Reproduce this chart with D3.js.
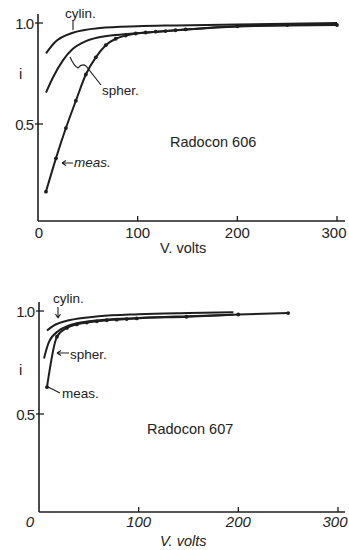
<!DOCTYPE html>
<html>
<head>
<meta charset="utf-8">
<script src="https://cdn.jsdelivr.net/npm/d3@7"></script>
<style>
  body { margin: 0; background: #fff; }
  svg { font-family: "Liberation Sans", Arial, sans-serif; fill: #222; }
  text { fill: #222; }
</style>
</head>
<body>
<svg id="fig" width="349" height="550"></svg>
<script>
// values (V in volts, i relative current)
const voltTicks = [0, 100, 200, 300];
const iTicks = [0.5, 1.0];

const cylin606 = [[8,0.85],[17,0.905],[35,0.952],[62,0.975],[100,0.984],[138,0.988],[200,0.993],[300,1.0]];
const spher606 = [[8,0.655],[15,0.73],[25,0.815],[35,0.872],[45,0.903],[60,0.928],[90,0.945],[130,0.96],[200,0.983],[300,0.99]];
const meas606 = [[8,0.165],[18,0.33],[28,0.48],[38,0.615],[48,0.745],[58,0.83],[68,0.89],[78,0.922],[88,0.938],[98,0.948],[108,0.953],[118,0.957],[128,0.96],[138,0.964],[148,0.968],[200,0.984],[250,0.99],[300,0.99]];

const cylin607 = [[8,0.905],[15,0.93],[30,0.955],[60,0.974],[100,0.984],[150,0.99],[195,0.994]];
const spher607 = [[5,0.77],[10,0.85],[20,0.905],[30,0.93],[50,0.95],[100,0.966],[150,0.975],[195,0.982]];
const meas607 = [[8,0.63],[18,0.875],[28,0.918],[38,0.935],[48,0.944],[58,0.95],[68,0.955],[78,0.958],[88,0.961],[98,0.964],[148,0.972],[200,0.983],[250,0.99]];

const svg = d3.select("#fig");
const ink = "#1e1e1e";

function panel(cfg) {
  const x = d3.scaleLinear().domain([0, 300]).range([cfg.x0, cfg.x300]);
  const y = d3.scaleLinear().domain([0.5, 1.0]).range([cfg.y05, cfg.y10]);
  const g = svg.append("g");

  // axes
  g.append("line").attr("x1", cfg.x0).attr("x2", cfg.x0)
    .attr("y1", cfg.axisTop).attr("y2", cfg.axisY)
    .attr("stroke", ink).attr("stroke-width", 1.6);
  g.append("line").attr("x1", cfg.x0).attr("x2", 345)
    .attr("y1", cfg.axisY).attr("y2", cfg.axisY)
    .attr("stroke", ink).attr("stroke-width", 1.6);

  voltTicks.forEach(v => {
    if (v > 0) {
      g.append("line").attr("x1", x(v)).attr("x2", x(v))
        .attr("y1", cfg.axisY).attr("y2", cfg.axisY - 5)
        .attr("stroke", ink).attr("stroke-width", 1.3);
    }
    g.append("text").text(v)
      .attr("x", v === 0 ? x(v) + cfg.zeroDx : x(v) - (v === 300 ? 3 : 0))
      .attr("y", cfg.tickBase)
      .attr("text-anchor", "middle")
      .attr("font-size", 15)
      .attr("font-style", cfg.italic ? "italic" : "normal");
  });

  iTicks.forEach(t => {
    g.append("line").attr("x1", cfg.x0 - 3).attr("x2", cfg.x0 + 5)
      .attr("y1", y(t)).attr("y2", y(t))
      .attr("stroke", ink).attr("stroke-width", 1.3);
    g.append("text").text(t.toFixed(1))
      .attr("x", cfg.x0 - 5).attr("y", y(t) + 6)
      .attr("text-anchor", "end")
      .attr("font-size", 15)
      .attr("letter-spacing", -1);
  });

  g.append("text").text("i").attr("x", 19).attr("y", cfg.iLabelY).attr("font-size", 15);
  g.append("text").text("V. volts").attr("x", 160).attr("y", cfg.xLabelY)
    .attr("font-size", 14.5).attr("font-style", cfg.italic ? "italic" : "normal");
  g.append("text").text(cfg.title).attr("x", cfg.titleX).attr("y", cfg.titleY).attr("font-size", 14.5);

  // curves
  const line = d3.line().x(d => x(d[0])).y(d => y(d[1])).curve(d3.curveMonotoneX);
  [cfg.cylin, cfg.spher, cfg.meas].forEach(s => {
    g.append("path").attr("d", line(s)).attr("fill", "none")
      .attr("stroke", ink).attr("stroke-width", 2);
  });
  g.selectAll("circle.pt").data(cfg.meas).join("circle")
    .attr("cx", d => x(d[0])).attr("cy", d => y(d[1]))
    .attr("r", 1.9).attr("fill", ink);

  // labels and leaders
  cfg.notes.forEach(n => {
    g.append("text").text(n.t).attr("x", n.x).attr("y", n.y)
      .attr("font-size", 13.5).attr("font-style", n.it ? "italic" : "normal");
  });
  cfg.leaders.forEach(p => {
    g.append("path").attr("d", p).attr("fill", "none")
      .attr("stroke", ink).attr("stroke-width", 1.1);
  });
}

panel({
  x0: 38, x300: 337, y10: 23, y05: 124, axisY: 221, axisTop: 14,
  tickBase: 238, zeroDx: 1, italic: false, iLabelY: 79, xLabelY: 253,
  title: "Radocon 606", titleX: 170, titleY: 147,
  cylin: cylin606, spher: spher606, meas: meas606,
  notes: [
    {t: "cylin.", x: 65, y: 18},
    {t: "spher.", x: 102, y: 95},
    {t: "meas.", x: 74, y: 167, it: true}
  ],
  leaders: [
    "M73,21 L73,30",
    "M70,57 Q74,66 78,68 Q82,63 86,66 L101,85",
    "M62,163 L73,163 M62,163 l4,-2.5 M62,163 l4,2.5"
  ]
});

panel({
  x0: 39, x300: 338, y10: 311, y05: 414, axisY: 512, axisTop: 302,
  tickBase: 527, zeroDx: -9, italic: true, iLabelY: 375, xLabelY: 546,
  title: "Radocon 607", titleX: 147, titleY: 434,
  cylin: cylin607, spher: spher607, meas: meas607,
  notes: [
    {t: "cylin.", x: 53, y: 303},
    {t: "spher.", x: 70, y: 359},
    {t: "meas.", x: 62, y: 398}
  ],
  leaders: [
    "M58,307 L58,318 M58,318 l-2.5,-4 M58,318 l2.5,-4",
    "M57,353 L69,353 M57,353 l4,-2.5 M57,353 l4,2.5",
    "M48,387 L60,393"
  ]
});
</script>
</body>
</html>
